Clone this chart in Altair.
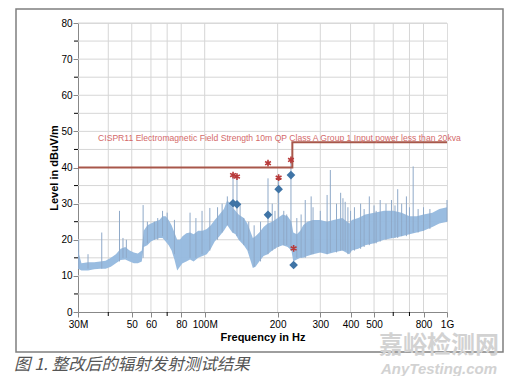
import altair as alt
import pandas as pd

# ---- data ----
band_freq = [30, 31, 33, 35, 37, 39, 41, 43, 45, 47, 49, 51, 53, 55, 56, 58, 60, 62, 65, 67, 69, 71, 73, 75,
             77, 79, 81, 84, 87, 90, 94, 98, 102, 106, 110, 115, 120, 124, 127, 130, 134, 138, 145, 150, 155,
             158, 162, 168, 175, 182, 190, 200, 210, 220, 228, 232, 240, 248, 255, 265, 280, 300, 320, 340,
             370, 395, 405, 430, 460, 500, 550, 600, 650, 700, 750, 800, 870, 930, 1000]
band_lo = [12, 11.5, 11.5, 11.8, 12, 12, 12.5, 13.5, 14.4, 14.5, 14, 13.5, 13.5, 14, 18, 18.5, 19.5, 20, 20.5,
           20.5, 19.5, 18.5, 17, 14.5, 11.5, 12.5, 13.5, 14, 14.5, 14, 15, 15.5, 16, 17.5, 19.5, 21, 22.5, 24,
           23, 22, 21.5, 20, 18.5, 17, 14, 12.2, 12.5, 14, 15.5, 16, 17, 18, 18.5, 18, 17, 14, 14.5, 15, 15,
           15.5, 16, 16.5, 16, 16.5, 17, 16, 17, 17.5, 18.5, 19, 20, 20.5, 21, 21.5, 22, 22.5, 23.5, 24.5, 25]
band_hi = [17, 13.5, 13.8, 13.8, 14, 14.2, 15, 16, 17.5, 18, 17, 16.5, 16.2, 17, 22.5, 24, 24.5, 25, 25.5,
           26.5, 26.5, 25.5, 24, 22, 20, 20, 21, 21.8, 22, 21.5, 22.5, 22.5, 23, 24, 25.5, 27, 28.5, 31, 30,
           29, 28, 27, 26, 24.5, 22, 20.5, 21, 22, 23.5, 24.5, 25, 26, 27, 26.5, 25, 22, 21.5, 22.5, 24, 25,
           25.5, 25.5, 25, 25.5, 26, 24.5, 25.5, 26, 27, 27.5, 28, 28, 27.5, 26.5, 26.5, 27, 27.5, 28.5, 29]

spike_freq = [30.2, 33, 37.6, 44.5, 46, 47.5, 55.7, 58, 62, 64, 67, 70, 75, 87, 92, 97.5, 105, 113, 118, 124,
              130.9, 135.9, 140, 145, 152, 160, 170, 182.5, 190, 195, 201.9, 212, 218, 227, 240, 250, 260, 275,
              280, 300, 320, 330, 350, 364, 372, 380, 390, 400, 415, 440, 455, 478, 500, 510, 530, 560, 590,
              610, 626, 650, 680, 700, 725, 760, 800, 850, 1000]
spike_base = [12, 12, 12, 14, 15, 15, 15, 19, 20, 20, 21, 20, 16, 15, 15, 16, 17, 20, 22, 24,
              22, 21, 20, 18.5, 17, 12.5, 14, 16, 17, 17.5, 18, 18.5, 18.5, 17, 15, 15, 15, 16,
              16, 16.5, 16, 16.5, 16.5, 17, 17, 17, 16, 16.5, 17, 17.5, 18, 18.5, 19, 19, 19.5, 20, 20.5,
              20.5, 20.5, 21, 21, 21.5, 22, 22, 22.5, 23, 25]
spike_peak = [20, 16, 22, 28, 20.5, 20, 29.6, 25, 25, 26, 28, 27.5, 25.5, 27.5, 26, 28, 28.8, 29, 30, 32,
              38, 37.5, 30, 26, 25, 24, 25, 37, 30, 28, 38, 28, 27, 42, 26, 27, 31, 32,
              29, 28, 32.4, 39.3, 30, 33, 31.5, 30.5, 29, 28, 29, 30, 28.5, 32, 29.5, 28, 31, 30, 31,
              29.5, 34, 30, 32, 29, 40.3, 28.5, 29, 28.5, 31]

limit_freq = [30, 230, 230, 1000]
limit_level = [40, 40, 47, 47]
limit_text = "CISPR11 Electromagnetic Field Strength 10m QP Class A Group 1 Input power less than 20kva"

qp_freq = [130.9, 135.9, 182.5, 201.9, 227, 232.8]
qp_level = [37.9, 37.5, 41.2, 37.2, 42.1, 17.6]
pk_freq = [130.9, 135.9, 182.5, 201.9, 227, 232.8]
pk_level = [30.1, 29.8, 26.9, 34.0, 37.9, 13.0]

x_label_values = [30, 50, 60, 80, 100, 200, 300, 400, 500, 800, 1000]
x_label_texts = ["30M", "50", "60", "80", "100M", "200", "300", "400", "500", "800", "1G"]
x_grid_values = [40, 50, 60, 70, 80, 100, 200, 300, 400, 500, 600, 700, 800]
x_minor_values = [40, 70, 600, 700]
y_label_values = [0, 10, 20, 30, 40, 50, 60, 70, 80]
y_grid_values = [5, 10, 15, 20, 25, 30, 35, 40, 45, 50, 55, 60, 65, 70, 75, 80]
y_minor_values = [5, 15, 25, 35, 45, 55, 65, 75]

caption = "图 1. 整改后的辐射发射测试结果"
wm_cn = "嘉峪检测网"
wm_en = "AnyTesting.com"

# ---- tables ----
band = pd.DataFrame({"f": band_freq, "lo": band_lo, "hi": band_hi})
spikes = pd.DataFrame({"f": spike_freq, "b": spike_base, "p": spike_peak})
limit = pd.DataFrame({"f": limit_freq, "v": limit_level, "o": list(range(len(limit_freq)))})
qp = pd.DataFrame({"f": qp_freq, "v": qp_level})
pk = pd.DataFrame({"f": pk_freq, "v": pk_level})
lbl = pd.DataFrame({"f": [36.3], "v": [48.3], "t": [limit_text]})
xg = pd.DataFrame({"f": x_grid_values})
yg = pd.DataFrame({"v": y_grid_values})
xminor = pd.DataFrame({"f": x_minor_values})
yminor = pd.DataFrame({"v": y_minor_values})
one = pd.DataFrame({"a": [0]})

label_map = "{" + ",".join(f"'{v}':'{l}'" for v, l in zip(x_label_values, x_label_texts)) + "}"

xscale = alt.Scale(type="log", domain=[30, 1000], nice=False)
yscale = alt.Scale(domain=[0, 80], nice=False)

xaxis = alt.Axis(values=x_label_values, labelExpr=f"{label_map}[''+datum.value]", title="Frequency in Hz",
                 labelOverlap=False, labelFlush=False, labelPadding=2, titlePadding=2, grid=False)
yaxis = alt.Axis(values=y_label_values, title="Level in dBuV/m", labelOverlap=False,
                 labelPadding=1, titlePadding=1, grid=False)

GRID = "#d6d6d6"


def X(field="f"):
    return alt.X(f"{field}:Q", scale=xscale, axis=xaxis)


def Y(field):
    return alt.Y(f"{field}:Q", scale=yscale, axis=yaxis)


xgrid = alt.Chart(xg).mark_rule(color=GRID, strokeWidth=1).encode(
    x=X(), y=alt.value(0), y2=alt.value(289))
ygrid = alt.Chart(yg).mark_rule(color=GRID, strokeWidth=1).encode(
    y=Y("v"), x=alt.value(0), x2=alt.value(369))
xticks = alt.Chart(xminor).mark_rule(color="#000000", strokeWidth=1).encode(
    x=X(), y=alt.value(289), y2=alt.value(293))
yticks = alt.Chart(yminor).mark_rule(color="#000000", strokeWidth=1).encode(
    y=Y("v"), x=alt.value(-4), x2=alt.value(0))

area = alt.Chart(band).mark_area(color="#94b8de", opacity=0.95, interpolate="linear").encode(
    x=X(), y=Y("lo"), y2="hi:Q")

rules = alt.Chart(spikes).mark_rule(color="#8fa9c8", strokeWidth=1).encode(
    x=X(), y=Y("b"), y2="p:Q")

lim = alt.Chart(limit).mark_line(color="#a8574a", strokeWidth=2).encode(
    x=X(), y=Y("v"), order="o:Q")

lim_text = alt.Chart(lbl).mark_text(align="left", baseline="middle", fontSize=8.6, color="#d46a6a",
                                    font="Liberation Sans").encode(
    x=X(), y=Y("v"), text="t:N")

asterisk = "M0,-1L0,1M-0.866,-0.5L0.866,0.5M-0.866,0.5L0.866,-0.5"
qp_pts = alt.Chart(qp).mark_point(shape=asterisk, filled=False, color="#b83a3a", strokeWidth=1.6, size=45,
                                  opacity=1).encode(x=X(), y=Y("v"))
pk_pts = alt.Chart(pk).mark_point(shape="diamond", filled=True, color="#3f74a6", size=75, opacity=1).encode(
    x=X(), y=Y("v"))

frame = alt.Chart(one).mark_rect(fill=None, stroke="#7f7f7f", strokeWidth=1.5).encode(
    x=alt.value(-62), x2=alt.value(425), y=alt.value(-14), y2=alt.value(329))

cap = alt.Chart(one).mark_text(text=caption, align="left", baseline="middle", fontSize=16.5, fontStyle="italic",
                               color="#555555", font="Noto Sans CJK SC").encode(
    x=alt.value(-64), y=alt.value(342))

wm1 = alt.Chart(one).mark_text(text=wm_cn, align="center", baseline="middle", fontSize=24, fontWeight="bold",
                               color="#d2d2d2", font="Noto Sans CJK SC").encode(
    x=alt.value(361), y=alt.value(323))
wm2 = alt.Chart(one).mark_text(text=wm_en, align="center", baseline="middle", fontSize=15, fontWeight="bold",
                               fontStyle="italic", color="#d2d2d2", font="Liberation Sans").encode(
    x=alt.value(361), y=alt.value(346))

chart = alt.layer(xgrid, ygrid, area, rules, lim, lim_text, qp_pts, pk_pts, xticks, yticks,
                  frame, cap, wm1, wm2).properties(
    width=369, height=289,
    autosize=alt.AutoSizeParams(type="none"),
    padding={"left": 70, "top": 15, "right": 65, "bottom": 64},
).configure_view(stroke=None).configure_axis(
    domainColor="#000000", domainWidth=1, tickColor="#000000", tickSize=4, tickWidth=1,
    labelFont="Liberation Sans", labelFontSize=9, labelColor="#222222",
    titleFont="Liberation Sans", titleFontSize=9, titleColor="#222222", titleFontWeight="bold",
).configure(background="white")

chart.save("out.html", embed_options={"renderer": "svg", "actions": False})
